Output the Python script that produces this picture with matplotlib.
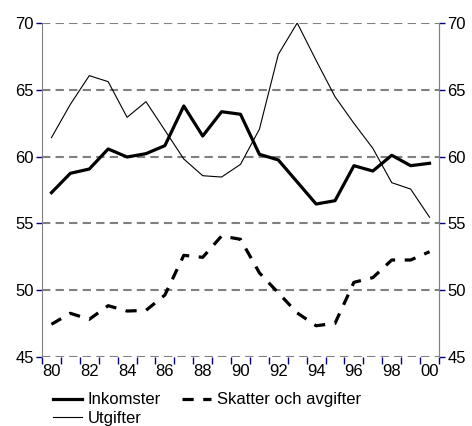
import numpy as np
import matplotlib
matplotlib.use("Agg")
import matplotlib.pyplot as plt

plt.rcParams['font.family'] = ['Liberation Sans', 'DejaVu Sans']

years = ["80", "81", "82", "83", "84", "85", "86", "87", "88", "89", "90",
         "91", "92", "93", "94", "95", "96", "97", "98", "99", "00"]
inkomster = [57.3, 58.75, 59.07, 60.57, 59.97, 60.22, 60.82, 63.79, 61.54, 63.36, 63.17,
             60.17, 59.75, 58.1, 56.45, 56.7, 59.32, 58.92, 60.1, 59.32, 59.5]
utgifter = [61.42, 63.91, 66.06, 65.61, 62.94, 64.11, 61.97, 59.82, 58.57, 58.47, 59.42,
            62.05, 67.65, 70.0, 67.2, 64.48, 62.49, 60.62, 58.05, 57.57, 55.46]
skatter = [47.45, 48.27, 47.82, 48.84, 48.44, 48.49, 49.64, 52.61, 52.46, 54.06, 53.81,
           51.3, 49.8, 48.3, 47.34, 47.52, 50.59, 50.94, 52.26, 52.26, 52.88]
yticks = [45, 50, 55, 60, 65, 70]

x = np.arange(len(years))

fig = plt.figure(figsize=(4.72, 4.26), dpi=100)
ax = fig.add_axes([42 / 472, 1 - 357 / 426, 397 / 472, 334 / 426])

for y in yticks:
    ax.axhline(y, color='#808080', lw=1.5, ls=(0, (4, 2.5)), zorder=1)

l1, = ax.plot(x, inkomster, color='black', lw=2.3, label='Inkomster', zorder=3)
l3, = ax.plot(x, utgifter, color='black', lw=0.8, label='Utgifter', zorder=3)
l2, = ax.plot(x, skatter, color='black', lw=2.3, ls=(0, (3.5, 3)),
              label='Skatter och avgifter', zorder=3)

ax.set_xlim(-0.5, len(years) - 0.5)
ax.set_ylim(45, 70)
ax.set_yticks(yticks)
ax.set_xticks(x[::2])
ax.set_xticklabels(years[::2])
ax.set_xticks(np.arange(-0.5, len(years)), minor=True)
ax.tick_params(axis='x', which='major', length=0, labelsize=12, pad=5)
ax.tick_params(axis='x', which='minor', length=5, color='#000080', width=1)
ax.tick_params(axis='y', length=4, color='#000080', width=1, labelsize=12, pad=2)

for s in ['top', 'bottom']:
    ax.spines[s].set_visible(False)
for s in ['left', 'right']:
    ax.spines[s].set_color('#808080')

ax2 = ax.twinx()
ax2.set_ylim(45, 70)
ax2.set_yticks(yticks)
ax2.tick_params(axis='y', length=4, color='#000080', width=1, labelsize=12, pad=2)
for s in ['top', 'bottom', 'left']:
    ax2.spines[s].set_visible(False)
ax2.spines['right'].set_color('#808080')

fig.legend(handles=[l1, l3, l2], ncol=2, loc='upper left',
           bbox_to_anchor=(45 / 472, 1 - 384 / 426), frameon=False,
           fontsize=12, handlelength=1.7, handletextpad=0.35,
           labelspacing=0.2, columnspacing=1.3, borderpad=0)

fig.savefig("out.png", dpi=100)
